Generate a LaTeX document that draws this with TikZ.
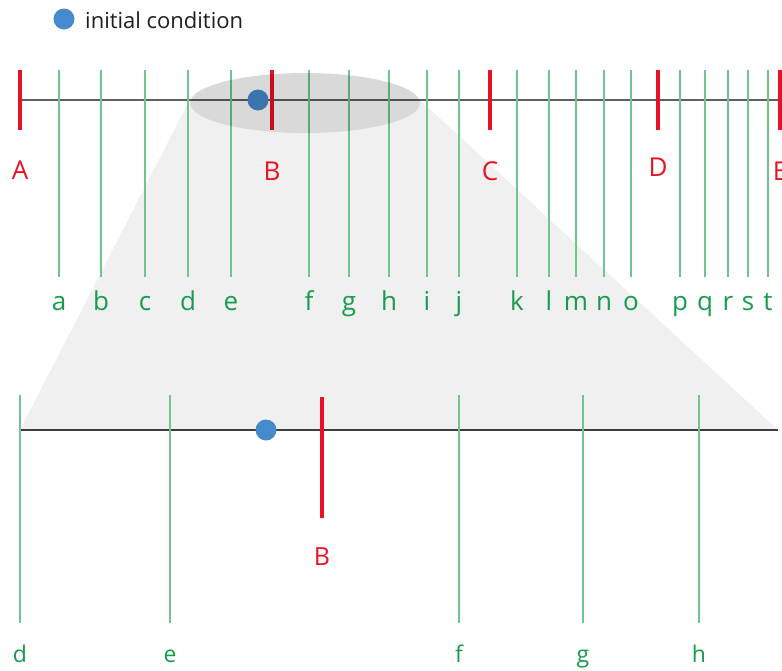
\documentclass[tikz,border=0pt]{standalone}
\usepackage{fontspec}
\setmainfont{Open Sans}
\usepackage{tikz}
\usetikzlibrary{positioning}
\definecolor{markred}{RGB}{232,18,36}
\definecolor{gridgreen}{RGB}{112,196,142}
\definecolor{labelgreen}{RGB}{22,156,76}
\definecolor{dotblue}{RGB}{68,138,204}
\definecolor{axisgray}{RGB}{95,95,95}
\definecolor{funnelgray}{RGB}{240,240,240}

\tikzset{
  axisline/.style={draw=axisgray, line width=2.5pt},
  gridline/.style={draw=gridgreen, line width=2pt},
  redtick/.style={draw=markred, line width=4pt},
  redlabel/.style={text=markred, anchor=base, inner sep=0pt, font=\fontsize{26}{30}\selectfont},
  greenlabel/.style={text=labelgreen, anchor=base, inner sep=0pt, font=\fontsize{26}{30}\selectfont},
  smalllabel/.style={greenlabel, font=\fontsize{23}{27}\selectfont},
  icdot/.style={circle, fill=dotblue, minimum size=21pt, inner sep=0pt},
}

\begin{document}
\begin{tikzpicture}[x=1pt, y=-1pt]
  \useasboundingbox (0,0) rectangle (782,670);

  % Zoom funnel from the highlighted window down to the lower axis
  \fill[funnelgray] (188,103) -- (20,430) -- (778,430) -- (420,100) -- cycle;
  \fill[white] (305,103) ellipse (115 and 30);

  % Legend
  \node[icdot] (legend-dot) at (64,19) {};
  \node[anchor=base west, inner sep=0pt, text={rgb,255:red,30;green,30;blue,30},
        font=\fontsize{22}{26}\selectfont] (legend-text) at (85,28) {initial condition};

  % Upper axis
  \draw[axisline] (20,100) -- (782,100);

  % Fine grid lines with letters
  \foreach \lab/\x in {
    a/59, b/101, c/145, d/188, e/231, f/309, g/349, h/389, i/427, j/459,
    k/517, l/549, m/576, n/604, o/631, p/680, q/705, r/728, s/748, t/768
  } {
    \draw[gridline] (\x,70) -- (\x,277);
    \node[greenlabel] (fine-\lab) at (\x,310) {\lab};
  }

  % Coarse marks
  \foreach \lab/\x/\ly in {A/20/179, B/272/180, C/490/180, D/658/176, E/780/180} {
    \draw[redtick] (\x,70) -- (\x,130);
    \node[redlabel] (coarse-\lab) at (\x,\ly) {\lab};
  }

  \node[icdot] (ic) at (258,100) {};

  % Highlighted window
  \fill[black, fill opacity=0.15] (305,103) ellipse (115 and 30);

  % Lower (zoomed) axis
  \draw[axisline, draw={rgb,255:red,60;green,60;blue,60}] (20,430) -- (778,430);
  \foreach \lab/\x in {d/20, e/170, f/459, g/583, h/699} {
    \draw[gridline] (\x,395) -- (\x,623);
    \node[smalllabel] (zoom-\lab) at (\x,662) {\lab};
  }
  \draw[redtick] (322,397) -- (322,518);
  \node[redlabel, font=\fontsize{25}{29}\selectfont] (zoom-B) at (322,565) {B};

  \node[icdot] (ic-zoom) at (266,430) {};
\end{tikzpicture}
\end{document}
